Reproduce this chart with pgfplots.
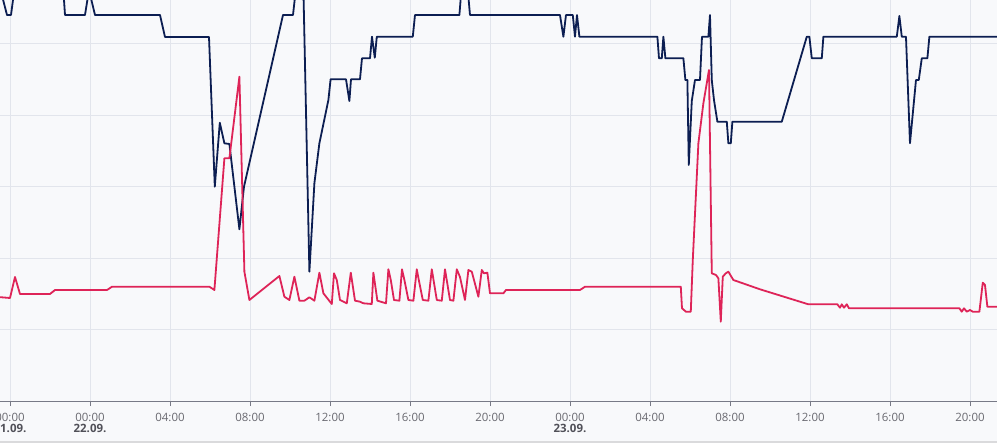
\documentclass[border=0pt]{standalone}
\usepackage{fontspec}
\setmainfont{Open Sans}
\usepackage{pgfplots}
\pgfplotsset{compat=1.18}
\definecolor{navy}{RGB}{12,30,82}
\definecolor{crim}{RGB}{222,36,88}
\definecolor{bg}{RGB}{248,249,251}
\definecolor{gridc}{RGB}{226,229,236}
\definecolor{axc}{RGB}{120,122,135}
\definecolor{lab}{RGB}{105,105,112}
\definecolor{datec}{RGB}{80,80,88}
\definecolor{band}{RGB}{218,218,220}
\begin{document}
\begin{tikzpicture}
\fill[bg] (0,-42bp) rectangle (997bp,401bp);
\begin{axis}[name=ax, at={(0,0)}, anchor=south west,
  width=997bp, height=401bp, scale only axis,
  xmin=-0.5, xmax=49.35, ymin=0, ymax=401,
  axis line style={draw=none},
  xtick={0,4,8,12,16,20,24,28,32,36,40,44,48},
  xticklabels={{00:00\\{\bfseries\color{datec}21.09.}},{00:00\\{\bfseries\color{datec}22.09.}},04:00,08:00,12:00,16:00,20:00,{00:00\\{\bfseries\color{datec}23.09.}},04:00,08:00,12:00,16:00,20:00},
  ytick={71.7,143,214.3,286,357.3}, yticklabels={},
  grid=major, major grid style={gridc, line width=0.8bp},
  xtick pos=left, tick align=outside, major tick length=5bp,
  x tick style={axc, line width=0.8bp}, y tick style={draw=none},
  xticklabel style={align=center, font=\fontsize{11.5}{12}\selectfont, text=lab, inner sep=2bp, yshift=-4.5bp},
  every axis plot/.append style={line join=round, no markers, sharp plot},
]
\addplot[navy, line width=1.8bp] coordinates {
(-0.6,421) (-0.15,386) (0.05,386) (0.25,416) (2.65,416) (2.75,386) (3.75,386) (3.95,411) (4.25,386)
(7.5,386) (7.75,364) (9.95,364) (10.24,214.3) (10.49,278.3) (10.72,257.7) (10.97,257) (11.47,171.7)
(11.7,214.3) (13.65,386) (14.15,386) (14.4,431) (14.65,431) (14.97,129.3) (15.22,217.7) (15.47,257.7)
(15.92,301) (16.03,321.7) (16.8,321.7) (16.97,300) (17.05,321.7) (17.5,321.7) (17.6,342.7) (18.0,342.7)
(18.1,364.3) (18.24,343.3) (18.34,364.3) (20.14,364.3) (20.25,386) (22.47,386) (22.57,411) (22.89,411)
(23.0,386) (27.5,386) (27.67,364.3) (27.8,386) (28.14,386) (28.25,364.3) (28.35,386) (28.47,364.3)
(32.37,364.3) (32.45,342.7) (32.59,342.7) (32.67,364.3) (32.77,342.7) (33.67,342.7) (33.77,321)
(33.87,321) (33.94,236) (34.09,300) (34.25,321) (34.5,321) (34.6,364.3) (34.92,364.3) (35.0,386)
(35.09,321) (35.2,301) (35.37,279.3) (35.84,279.3) (35.92,257.7) (36.04,257.7) (36.12,279.3)
(38.59,279.3) (39.84,364.3) (39.97,364.3) (40.09,342.7) (40.59,342.7) (40.67,364.3) (44.34,364.3)
(44.47,385) (44.59,364.3) (44.8,364.3) (45.0,257.7) (45.3,321) (45.44,321) (45.59,342.7) (45.87,342.7)
(45.97,364.3) (49.5,364.3)
};
\addplot[crim, line width=1.8bp] coordinates {
(-0.6,104) (0,103) (0.25,124) (0.5,107) (2.0,107) (2.25,111) (4.85,111) (5.1,114.3) (9.97,114.3)
(10.22,111) (10.72,242.7) (10.97,242.7) (11.47,324.3) (11.72,129.3) (11.97,101) (13.47,125) (13.72,104.3)
(13.97,101) (14.22,124.3) (14.47,100.3) (14.72,100.3) (14.97,103.7) (15.22,100.3) (15.47,128.3)
(15.67,107.7) (16.09,97) (16.2,127.7) (16.34,121) (16.5,101) (16.84,97.7) (17.04,128.3) (17.25,100.3)
(17.5,99.3) (17.67,97.7) (18.09,97) (18.17,128.3) (18.37,100.3) (18.8,97.7) (18.92,131.7) (19.04,121)
(19.2,101) (19.47,100.3) (19.6,131.7) (19.72,121) (19.92,101) (20.17,100.3) (20.34,131.7) (20.44,121)
(20.64,101) (20.92,100.3) (21.09,131.7) (21.34,101) (21.59,100.3) (21.75,131.7) (22.0,101) (22.17,100.3)
(22.34,131.7) (22.5,124) (22.75,101) (22.92,131) (23.09,129.3) (23.2,121) (23.42,104.3) (23.59,131)
(23.7,127.7) (23.87,128.3) (24.0,107.7) (24.67,107.7) (24.8,111) (28.5,111) (28.75,114.3) (33.54,114.3)
(33.6,92.7) (33.7,91) (33.8,89.3) (34.04,89.3) (34.14,141) (34.42,257.7) (34.67,297.7) (34.95,331)
(35.09,127.7) (35.3,126) (35.42,122.7) (35.54,79.3) (35.64,124.3) (35.79,127.7) (35.92,129.3)
(36.17,121) (37.5,111.7) (39.5,99.3) (39.92,96.7) (41.37,96.7) (41.5,93.3) (41.59,96.7) (41.7,93.3)
(41.84,96.7) (41.95,92.7) (47.47,92.7) (47.59,89.3) (47.7,92.7) (47.84,89.3) (48.0,91) (48.14,89.3)
(48.47,89.3) (48.64,118.3) (48.75,116) (48.87,94.3) (49.5,94.3)
};
\end{axis}
\draw[axc, line width=0.9bp] (ax.south west) -- (ax.south east);
\fill[band] (0,-42bp) rectangle (997bp,-40bp);
\pgfresetboundingbox
\useasboundingbox (0,-42bp) rectangle (997bp,401bp);
\end{tikzpicture}
\end{document}
